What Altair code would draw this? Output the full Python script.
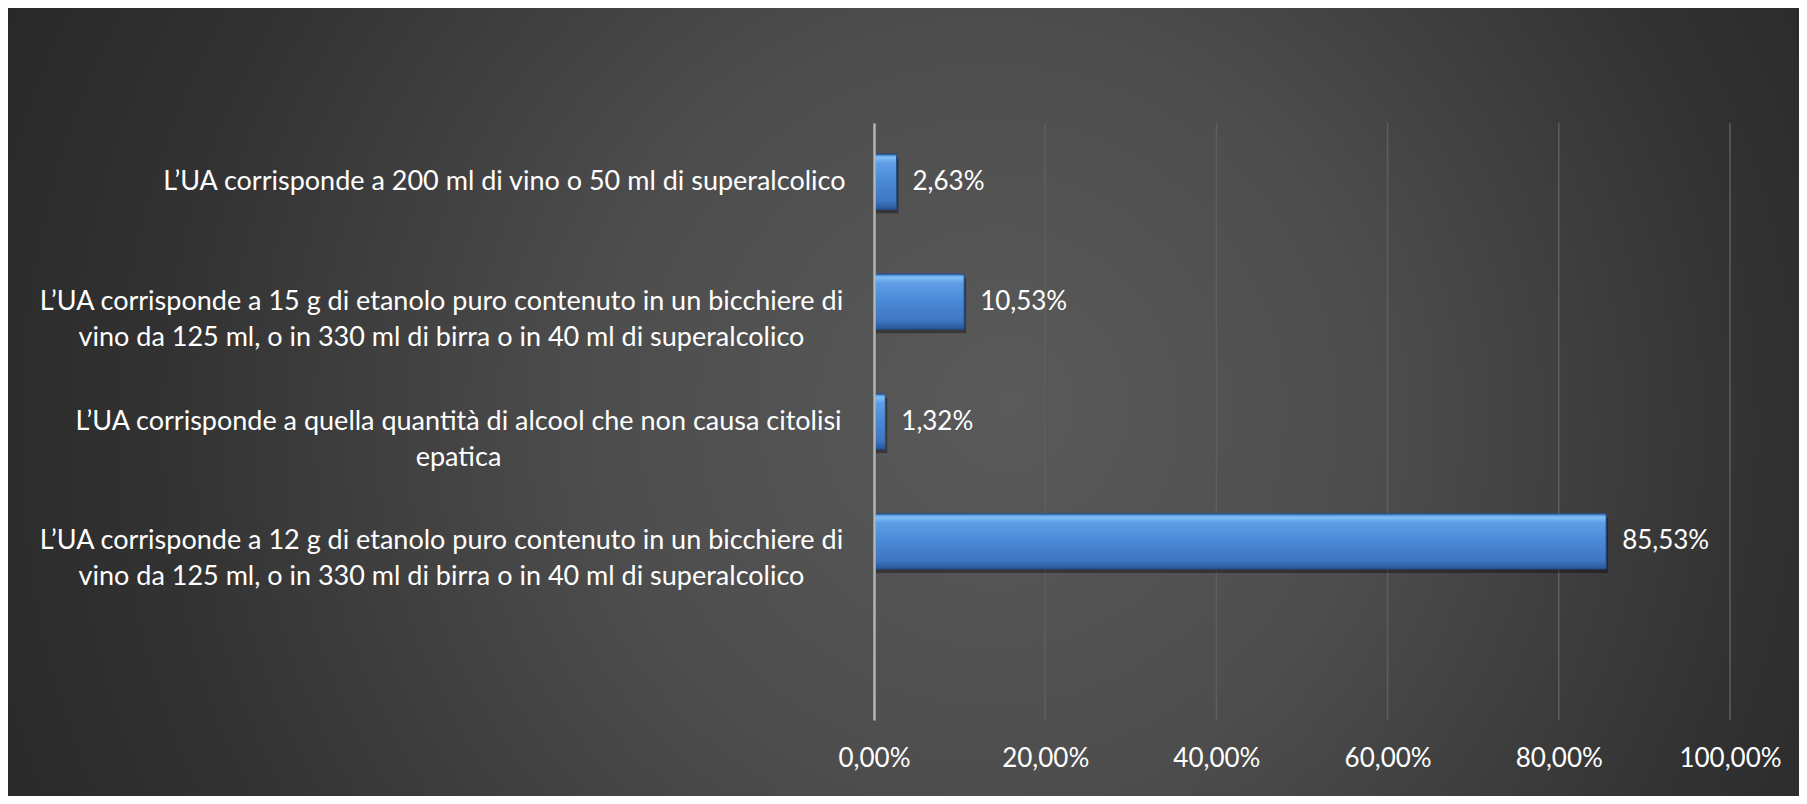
import json
import altair as alt
import pandas as pd

# ---- data ----
categories = [
    "L’UA corrisponde a 200 ml di vino o 50 ml di superalcolico",
    "L’UA corrisponde a 15 g di etanolo puro contenuto in un bicchiere di\nvino da 125 ml, o in 330 ml di birra o in 40 ml di superalcolico",
    "L’UA corrisponde a quella quantità di alcool che non causa citolisi\nepatica",
    "L’UA corrisponde a 12 g di etanolo puro contenuto in un bicchiere di\nvino da 125 ml, o in 330 ml di birra o in 40 ml di superalcolico",
]
values = [2.63, 10.53, 1.32, 85.53]
tick_values = [0, 20, 40, 60, 80, 100]
y_domain = categories + [""]

df = pd.DataFrame({"cat": categories, "val": values})
grid_df = pd.DataFrame({"t": tick_values})
bg_df = pd.DataFrame({"k": [0]})

# ---- layout ----
W, H = 856, 597
PAD = {"left": 866, "top": 115, "right": 69, "bottom": 76}
FONT = "Lato"
FS = 26
FS_CAT = 27
TXT = "#ffffff"

pad_right = 29
pad_center = 433
pad_center3 = 416

x_scale = alt.Scale(domain=[0, 100], nice=False, zero=True)
y_scale = alt.Scale(domain=y_domain, paddingInner=0.54, paddingOuter=0.26)

bg = alt.Chart(bg_df).mark_rect(
    fill={
        "gradient": "radial",
        "x1": 0.56, "y1": 0.5, "r1": 0.0,
        "x2": 0.52, "y2": 0.52, "r2": 0.62,
        "stops": [
            {"offset": 0.0, "color": "#5a5a5a"},
            {"offset": 0.35, "color": "#4d4d4d"},
            {"offset": 0.72, "color": "#323232"},
            {"offset": 1.0, "color": "#252525"},
        ],
    },
    stroke=None,
).encode(
    x=alt.value(-PAD["left"]),
    x2=alt.value(W + PAD["right"]),
    y=alt.value(-PAD["top"]),
    y2=alt.value(H + PAD["bottom"]),
)

grid = alt.Chart(grid_df).mark_rule(color="#5e5e5e", strokeWidth=1.5).encode(
    x=alt.X("t:Q", scale=x_scale)
)

x_axis = alt.Axis(
    values=tick_values,
    labelExpr="replace(format(datum.value, '.2f'), '.', ',') + '%'",
    grid=False, ticks=False, tickSize=0, domain=False,
    labelFont=FONT, labelFontSize=FS, labelColor=TXT,
    labelPadding=38, labelBaseline="middle", labelFlush=False, labelOverlap=False,
    title=None, zindex=1,
)

cond_single = "indexof(datum.value, '\\n') < 0"
cond_third = "datum.value === " + json.dumps(categories[2])

y_axis = alt.Axis(
    labelExpr="split(datum.value, '\\n')",
    labelAlign={"condition": {"test": cond_single, "value": "right"}, "value": "center"},
    labelPadding={
        "condition": [
            {"test": cond_single, "value": pad_right},
            {"test": cond_third, "value": pad_center3},
        ],
        "value": pad_center,
    },
    labelBaseline="middle",
    labelLineHeight=36,
    labelLimit=2000,
    labelFont=FONT, labelFontSize=FS_CAT, labelColor=TXT,
    ticks=False, tickSize=0, grid=False,
    domain=True, domainColor="#b3b3b3", domainWidth=2.5,
    title=None, zindex=1,
)

shadow = alt.Chart(df).mark_bar(color="#000000", opacity=0.35, yOffset=4, xOffset=2).encode(
    x=alt.X("val:Q", scale=x_scale, axis=x_axis),
    y=alt.Y("cat:N", scale=y_scale, sort=None, axis=y_axis),
)

bars = alt.Chart(df).mark_bar(
    color={
        "gradient": "linear",
        "x1": 0, "y1": 0, "x2": 0, "y2": 1,
        "stops": [
            {"offset": 0.0, "color": "#3b78c8"},
            {"offset": 0.06, "color": "#82c0f6"},
            {"offset": 0.16, "color": "#5f9ee6"},
            {"offset": 0.5, "color": "#4a88d6"},
            {"offset": 0.85, "color": "#3e76c2"},
            {"offset": 1.0, "color": "#2b5596"},
        ],
    },
    stroke="#214f8e",
    strokeWidth=1,
).encode(
    x=alt.X("val:Q", scale=x_scale),
    y=alt.Y("cat:N", scale=y_scale, sort=None),
)

labels = alt.Chart(df).transform_calculate(
    lab="replace(format(datum.val, '.2f'), '.', ',') + '%'"
).mark_text(
    align="left", baseline="middle", dx=16, font=FONT, fontSize=FS, color=TXT
).encode(
    x=alt.X("val:Q", scale=x_scale),
    y=alt.Y("cat:N", scale=y_scale, sort=None),
    text="lab:N",
)

chart = alt.layer(bg, grid, shadow, bars, labels).properties(
    width=W, height=H,
    padding=PAD,
    autosize=alt.AutoSizeParams(type="none"),
    background="#7fa5b5",
).configure_view(stroke=None)

chart.save("out.html", embed_options={"renderer": "svg", "actions": False})
